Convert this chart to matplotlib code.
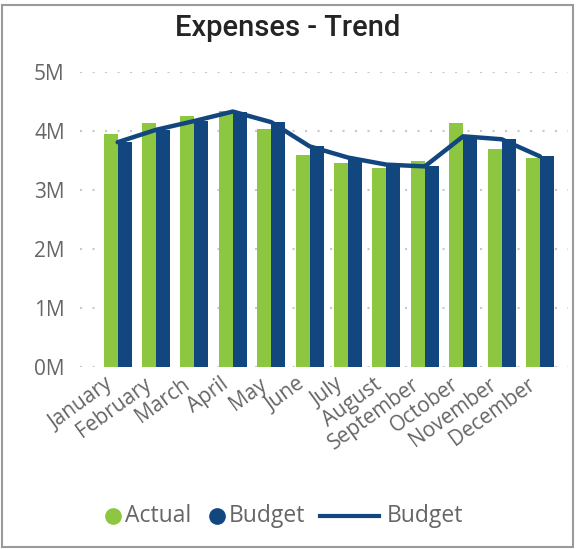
import numpy as np
import matplotlib
matplotlib.use("Agg")
import matplotlib.pyplot as plt
import matplotlib.transforms as mtransforms
from matplotlib.lines import Line2D
from matplotlib.patches import Rectangle

# data (millions)
months = ["January", "February", "March", "April", "May", "June", "July",
          "August", "September", "October", "November", "December"]
actual = [3.95, 4.13, 4.25, 4.34, 4.03, 3.59, 3.45, 3.37, 3.49, 4.13, 3.69, 3.54]
budget = [3.81, 4.02, 4.17, 4.33, 4.15, 3.74, 3.55, 3.43, 3.40, 3.91, 3.86, 3.57]
yticks = [0, 1, 2, 3, 4, 5]

green = "#8DC641"
navy = "#12467F"
gray = "#666666"

W, H = 576, 549
def fx(px):
    return px / W
def fy(py):
    return 1 - py / H

fig = plt.figure(figsize=(5.76, 5.49), dpi=100)
ax = fig.add_axes([fx(80), fy(367), fx(568) - fx(80), fy(72) - fy(367)])

x = np.arange(len(months))
w = 0.365
ax.bar(x - w / 2, actual, width=w, color=green, zorder=2)
ax.bar(x + w / 2, budget, width=w, color=navy, zorder=2)
ax.plot(x, budget, color=navy, lw=3.2, solid_joinstyle="round",
        solid_capstyle="round", zorder=3)

ax.set_xlim(-0.98, 11.73)
ax.set_ylim(0, 5)
ax.set_yticks(yticks)
ax.set_yticklabels([f"{v}M" for v in yticks], fontsize=15, color=gray,
                   family="Open Sans")
ax.tick_params(axis="y", length=0, pad=11)
ax.tick_params(axis="x", length=0, pad=5)
ax.set_xticks(x)
ax.set_xticklabels(months, rotation=36, ha="right", va="top",
                   rotation_mode="anchor", fontsize=15, color=gray,
                   family="Open Sans")
shift = mtransforms.ScaledTranslation(-13 / 100, 0, fig.dpi_scale_trans)
for lab in ax.get_xticklabels():
    lab.set_transform(lab.get_transform() + shift)

ax.grid(axis="y", color="#c8c8c8", linestyle=(0, (1, 5)), lw=1.5, zorder=0)
for s in ax.spines.values():
    s.set_visible(False)

fig.text(0.5, fy(28), "Expenses - Trend", ha="center", va="center",
         fontsize=21, color="#252423", family="Roboto", fontweight="medium")

# legend, drawn by hand to get Power BI spacing
ly = fy(516)
fig.add_artist(Line2D([fx(113)], [ly], marker="o", ms=11, color=green,
                      transform=fig.transFigure))
fig.text(fx(125), ly, "Actual", ha="left", va="center", fontsize=16.5,
         color=gray, family="Open Sans")
fig.add_artist(Line2D([fx(217)], [ly], marker="o", ms=11, color=navy,
                      transform=fig.transFigure))
fig.text(fx(229), ly, "Budget", ha="left", va="center", fontsize=16.5,
         color=gray, family="Open Sans")
fig.add_artist(Line2D([fx(320), fx(379)], [ly, ly], lw=3, color=navy,
                      transform=fig.transFigure))
fig.text(fx(387), ly, "Budget", ha="left", va="center", fontsize=16.5,
         color=gray, family="Open Sans")

fig.add_artist(Rectangle((fx(2), fy(547)), fx(573) - fx(2), fy(5) - fy(547),
                         fill=False, edgecolor="#9a9a9a", lw=1.5,
                         transform=fig.transFigure))

fig.savefig("out.png", dpi=100, facecolor="white")
